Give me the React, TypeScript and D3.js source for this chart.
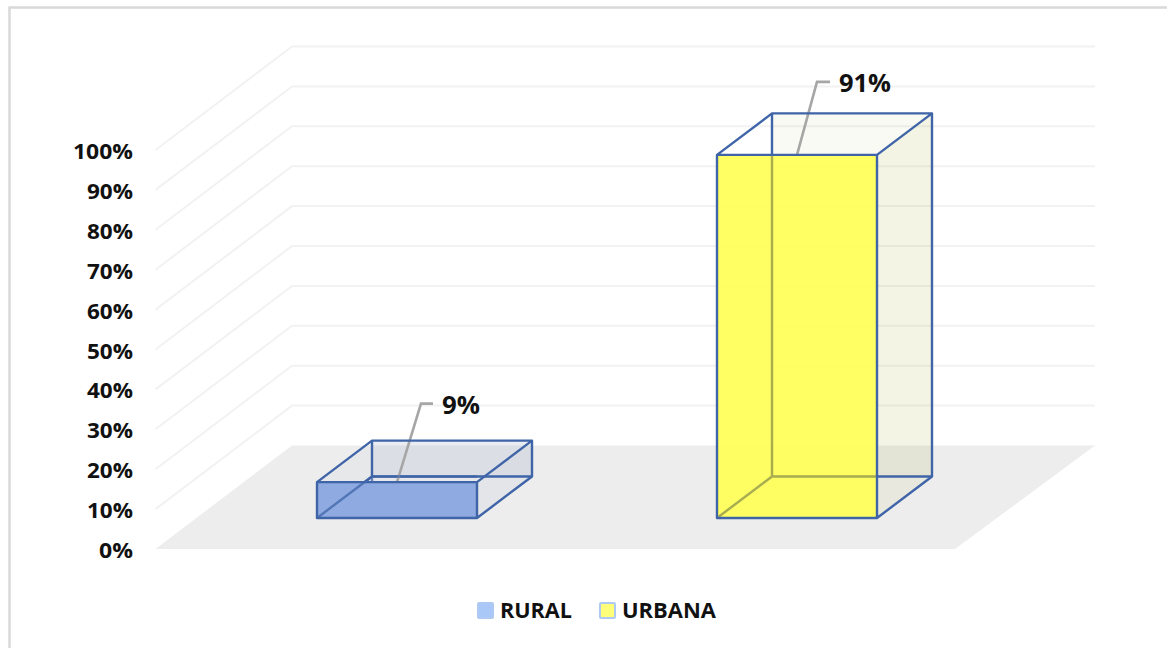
import React from "react";
import * as d3 from "d3";

const categories = ["RURAL", "URBANA"];
const values = [9, 91];
const valueLabels = ["9%", "91%"];
const ticks = [0, 10, 20, 30, 40, 50, 60, 70, 80, 90, 100];
const fronts = ["#8eaae0", "#ffff58"];
const swatches = ["#a9c8f7", "#ffff7a"];
const sideTints = ["#9aa8c4", "#b0b040"];
const backOpacity = [0.16, 0.06];
const topOpacity = [0.07, 0.0];
const sideOpacity = [0.1, 0.08];
const leaderDx = [24, 20];
const leaderDy = [78.5, 73];
const leaderRun = [12, 13];
const labelWidths = [38, 52];
const legendWidths = [72, 94];
const legendX = [478, 600];
const edge = "#3f64a8";

const W = 1167, H = 648;
const yFront = d3.scaleLinear().domain([0, 100]).range([549, 150]);
const depth = { x: 136.5, y: -103.5 };
const x = d3.scaleBand<string>().domain(categories).range([197, 997]).paddingInner(0.6).paddingOuter(0.3);
const barInsetY = -31;
const barDepth = { x: 55, y: -41.5 };
const fmt = (v: number) => `${v}%`;
const line = d3.line<[number, number]>();
const closed = (pts: [number, number][]) => line(pts) + "Z";

export default function App() {
  const gridRight = 1095;
  const y0 = yFront(0);
  const font = "'Open Sans', sans-serif";
  return (
    <svg width={W} height={H} style={{ position: "absolute", left: 0, top: 0, background: "#fff" }} fontFamily={font}>
      <path d={`M9.5 ${H}V7.5H${W}`} fill="none" stroke="#d9d9d9" strokeWidth={2.5} />
      <path d={closed([[155.5, y0], [955, y0], [gridRight, y0 + depth.y], [155.5 + depth.x, y0 + depth.y]])} fill="#ededed" />
      {ticks.slice(1).map((t) => {
        const y = yFront(t);
        return (
          <path key={t} d={line([[155.5, y], [155.5 + depth.x, y + depth.y], [gridRight, y + depth.y]])!}
            fill="none" stroke="#f2f2f2" strokeWidth={2} />
        );
      })}
      {ticks.map((t) => (
        <text key={t} x={133} y={yFront(t) + 9} textAnchor="end" fontSize={21} fontWeight={700} fill="#111"
          textLength={t === 100 ? 60 : t === 0 ? 34 : 46} lengthAdjust="spacingAndGlyphs">
          {fmt(t)}
        </text>
      ))}
      {categories.map((c, i) => {
        const xl = x(c)!;
        const xr = xl + x.bandwidth();
        const yb = y0 + barInsetY;
        const h = yFront(0) - yFront(values[i]);
        const yt = yb - h;
        const dx = barDepth.x, dy = barDepth.y;
        const cx = (xl + xr) / 2;
        const leader: [number, number][] = [
          [cx, yt],
          [cx + leaderDx[i], yt - leaderDy[i]],
          [cx + leaderDx[i] + leaderRun[i], yt - leaderDy[i]],
        ];
        return (
          <g key={c}>
            <path d={closed([[xl + dx, yt + dy], [xr + dx, yt + dy], [xr + dx, yb + dy], [xl + dx, yb + dy]])}
              fill={sideTints[i]} fillOpacity={backOpacity[i]} />
            <path d={closed([[xl, yt], [xl + dx, yt + dy], [xr + dx, yt + dy], [xr, yt]])}
              fill={sideTints[i]} fillOpacity={topOpacity[i]} />
            <path d={closed([[xr, yt], [xr + dx, yt + dy], [xr + dx, yb + dy], [xr, yb]])}
              fill={sideTints[i]} fillOpacity={sideOpacity[i]} />
            <path d={`M${xl},${yb}L${xl + dx},${yb + dy}H${xr + dx}M${xl + dx},${yb + dy}V${yt + dy}`}
              fill="none" stroke={edge} strokeWidth={2.4} />
            <path d={line(leader)!} fill="none" stroke="#a6a6a6" strokeWidth={2.6} />
            <rect x={xl} y={yt} width={xr - xl} height={h} fill={fronts[i]} fillOpacity={i === 0 ? 1 : 0.93} />
            <path d={`M${xl},${yb}L${xl + dx},${yb + dy}H${xr}M${xl + dx},${yt}V${yb + dy}`}
              fill="none" stroke={i === 0 ? edge : "#a8ad50"} strokeWidth={2.4} strokeOpacity={i === 0 ? 0.75 : 1} />
            <path d={`M${xl},${yt}H${xr}V${yb}H${xl}Z M${xl},${yt}L${xl + dx},${yt + dy}H${xr + dx}V${yb + dy}L${xr},${yb} M${xr},${yt}L${xr + dx},${yt + dy}`}
              fill="none" stroke={edge} strokeWidth={2.4} strokeLinejoin="round" />
            <text x={leader[2][0] + 9} y={leader[2][1] + 10} fontSize={25} fontWeight={700} fill="#111"
              textLength={labelWidths[i]} lengthAdjust="spacingAndGlyphs">
              {valueLabels[i]}
            </text>
          </g>
        );
      })}
      {categories.map((c, i) => (
        <g key={c}>
          <rect x={legendX[i]} y={603} width={15} height={15} rx={1} fill={swatches[i]} stroke="#aecaf2" strokeWidth={2} />
          <text x={legendX[i] + 22} y={618} fontSize={22} fontWeight={700} fill="#111"
            textLength={legendWidths[i]} lengthAdjust="spacingAndGlyphs">{c}</text>
        </g>
      ))}
    </svg>
  );
}
